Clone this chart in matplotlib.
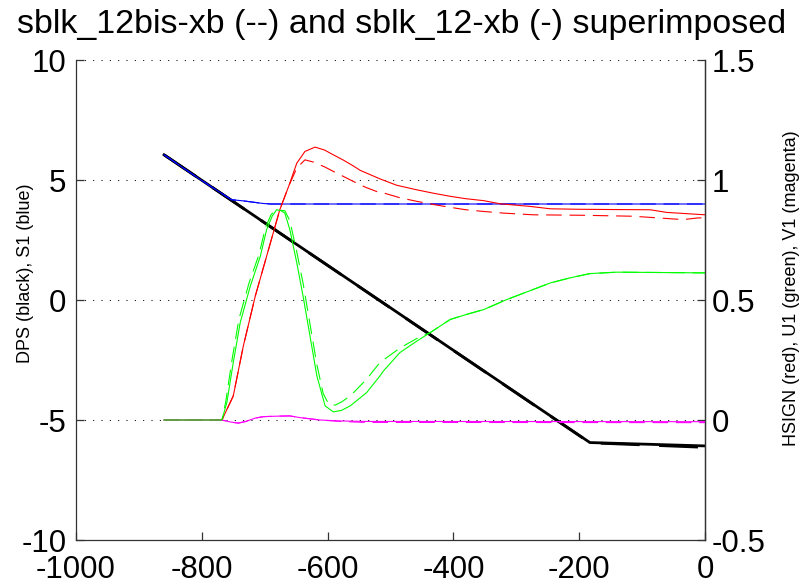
# DPS / S1 on the left axis, HSIGN / U1 / V1 on the right axis,
# run sblk_12bis-xb dashed and run sblk_12-xb solid

import matplotlib
matplotlib.use('Agg')
import matplotlib.pyplot as plt

plt.rcParams['font.family'] = ['Liberation Sans', 'DejaVu Sans']

# 1. Left-axis data: DPS (black) and S1 (blue)
dps_x = [-860, -183, 0]
dps_12 = [6.05, -5.94, -6.08]
dps_12bis = [6.05, -5.95, -6.14]

s1_x = [-860, -802, -753, -734, -702, -690, 0]
s1 = [6.05, 5.01, 4.18, 4.13, 4.02, 4.0, 4.0]

# 2. Right-axis data: HSIGN (red)
hs_x = [-860, -768, -750, -734, -715, -697, -676, -662, -649, -636, -620, -605,
        -591, -575, -560, -548, -517, -490, -458, -430, -405, -380, -352, -326,
        -300, -278, -246, -200, -150, -87, -61, 0]
hs_12 = [0, 0, 0.10, 0.308, 0.516, 0.682, 0.876, 0.973, 1.07, 1.119, 1.137, 1.125,
         1.105, 1.083, 1.06, 1.04, 1.005, 0.978, 0.959, 0.944, 0.932, 0.922, 0.914, 0.901,
         0.895, 0.890, 0.880, 0.878, 0.877, 0.876, 0.865, 0.855]

hb_x = [-860, -768, -750, -734, -715, -697, -676, -662, -649, -636, -623, -605,
        -591, -575, -559, -540, -522, -511, -485, -458, -430, -405, -380, -352,
        -320, -273, -194, -114, -35, -11, 0]
hs_12bis = [0, 0, 0.10, 0.308, 0.516, 0.682, 0.876, 0.973, 1.05, 1.084, 1.075, 1.055,
            1.036, 1.015, 0.994, 0.97, 0.952, 0.946, 0.926, 0.911, 0.897, 0.886, 0.876, 0.869,
            0.862, 0.855, 0.853, 0.849, 0.835, 0.842, 0.842]

# 3. Right-axis data: U1 (green)
u_x = [-860, -768, -760, -750, -739, -723, -707, -697, -688, -681, -674, -668,
       -660, -649, -639, -628, -617, -604, -591, -578, -564, -538, -517, -511,
       -485, -458, -437, -405, -379, -352, -315, -273, -246, -215, -183, -140, 0]
u1_12 = [0, 0, 0.075, 0.239, 0.405, 0.557, 0.682, 0.793, 0.85, 0.876, 0.872, 0.862,
         0.793, 0.655, 0.516, 0.35, 0.183, 0.059, 0.034, 0.04, 0.059, 0.114, 0.183, 0.205,
         0.281, 0.329, 0.364, 0.419, 0.44, 0.46, 0.502, 0.544, 0.571, 0.592, 0.61, 0.616, 0.613]

ub_x = [-860, -768, -762, -752, -741, -725, -709, -699, -690, -683, -676, -668,
        -660, -649, -639, -628, -617, -607, -598, -588, -578, -564, -538, -517,
        -485, -458, -437, -405, -379, -352, -315, -273, -246, -215, -183, -140, 0]
u1_12bis = [0, 0, 0.075, 0.25, 0.42, 0.57, 0.69, 0.80, 0.855, 0.876, 0.874, 0.872,
            0.83, 0.70, 0.57, 0.40, 0.23, 0.11, 0.065, 0.062, 0.075, 0.10, 0.17, 0.239,
            0.30, 0.34, 0.364, 0.419, 0.44, 0.46, 0.502, 0.544, 0.571, 0.592, 0.61, 0.616, 0.613]

# 4. Right-axis data: V1 (magenta)
v_x = [-860, -768, -755, -742, -730, -715, -702, -680, -660, -644, -612, -580, -540, 0]
v1_12 = [0, 0, -0.008, -0.013, -0.006, 0.008, 0.014, 0.016, 0.017, 0.01, 0.0, -0.004, -0.006, -0.007]
v1_12bis = [0, 0, -0.008, -0.013, -0.006, 0.008, 0.014, 0.016, 0.017, 0.01, 0.0, -0.006, -0.010, -0.011]

xticks = [-1000, -800, -600, -400, -200, 0]
left_ticks = [-10, -5, 0, 5, 10]
right_ticks = [-0.5, 0, 0.5, 1, 1.5]
right_labels = ['-0.5', '0', '0.5', '1', '1.5']

dash = (0, (14, 7))
dots = (0, (1, 7))

fig = plt.figure(figsize=(8.03, 5.88), dpi=100)
ax = fig.add_axes([76 / 803, 48 / 588, 629 / 803, 480 / 588])
ax2 = ax.twinx()

# left axis lines
ax.plot(dps_x, dps_12bis, color='black', linewidth=2.0, linestyle=dash)
ax.plot(dps_x, dps_12, color='black', linewidth=2.0)
ax.plot(s1_x, s1, color='blue', linewidth=0.8, linestyle=dash)
ax.plot(s1_x, s1, color='blue', linewidth=0.8)

# right axis lines
ax2.plot(hb_x, hs_12bis, color='red', linewidth=0.8, linestyle=dash)
ax2.plot(v_x, v1_12bis, color='magenta', linewidth=0.8, linestyle=dash)
ax2.plot(ub_x, u1_12bis, color='lime', linewidth=0.8, linestyle=dash)
ax2.plot(hs_x, hs_12, color='red', linewidth=0.8)
ax2.plot(v_x, v1_12, color='magenta', linewidth=0.8)
ax2.plot(u_x, u1_12, color='lime', linewidth=0.8)

ax.set_xlim(-1000, 0)
ax.set_ylim(-10, 10)
ax2.set_ylim(-0.5, 1.5)

ax.set_xticks(xticks)
ax.set_xticklabels([str(t) for t in xticks])
ax.set_yticks(left_ticks)
ax.set_yticklabels([str(t) for t in left_ticks])
ax2.set_yticks(right_ticks)
ax2.set_yticklabels(right_labels)

ax.yaxis.grid(True, color='black', linewidth=0.75, linestyle=dots)
ax.xaxis.grid(False)

for a in (ax, ax2):
    a.spines['top'].set_visible(False)
    for s in ('left', 'right', 'bottom'):
        a.spines[s].set_color('0.2')
        a.spines[s].set_linewidth(0.9)
ax2.spines['left'].set_visible(False)
ax2.spines['bottom'].set_visible(False)

ax.tick_params(axis='x', direction='in', length=5.5, width=0.9, color='0.2',
               labelsize=22.5, pad=11)
ax.tick_params(axis='y', direction='in', length=5.5, width=0.9, color='0.2',
               labelsize=22.5, pad=7, right=False)
ax2.tick_params(axis='y', direction='in', length=5.5, width=0.9, color='0.2',
                labelsize=22.5, pad=5)

fig.text(0.5, 1 - 33 / 588, 'sblk_12bis-xb (--) and sblk_12-xb (-) superimposed',
         ha='center', va='baseline', fontsize=24.5)
fig.text(26 / 803, 1 - 273 / 588, 'DPS (black), S1 (blue)', rotation=90,
         ha='center', va='center', fontsize=13)
fig.text(792 / 803, 1 - 288 / 588, 'HSIGN (red), U1 (green), V1 (magenta)', rotation=90,
         ha='center', va='center', fontsize=13)

fig.savefig('out.png', dpi=100)
